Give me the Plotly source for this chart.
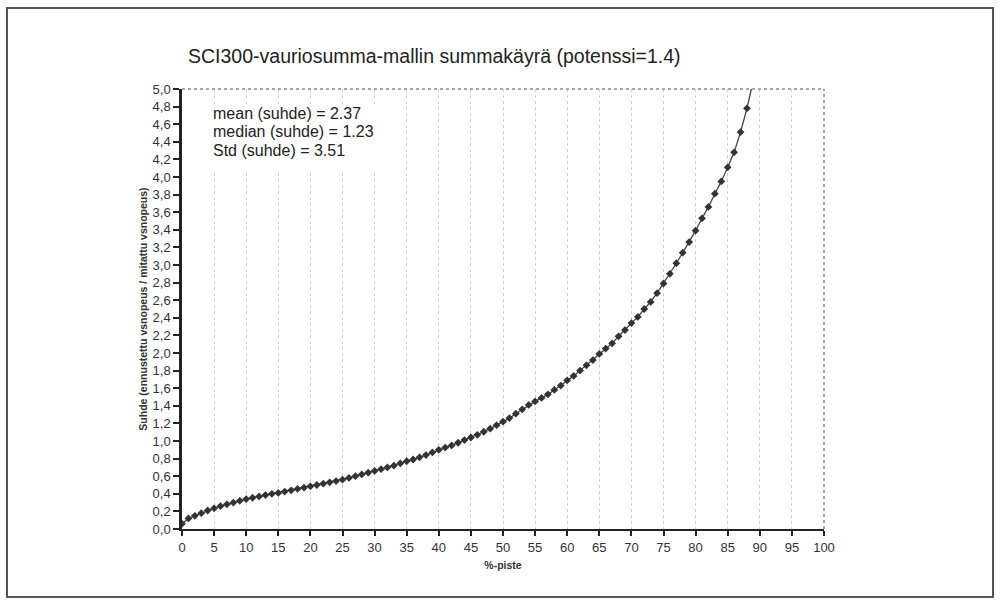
import plotly.graph_objects as go

# Data
percent_points = list(range(0, 90))
ratio_values = [
    0.06, 0.12, 0.15, 0.18, 0.21, 0.235, 0.26, 0.28, 0.30, 0.32,
    0.34, 0.355, 0.37, 0.385, 0.40, 0.41, 0.425, 0.44, 0.455, 0.47,
    0.485, 0.50, 0.515, 0.53, 0.545, 0.56, 0.58, 0.60, 0.62, 0.64,
    0.66, 0.68, 0.70, 0.72, 0.745, 0.77, 0.79, 0.815, 0.84, 0.87,
    0.90, 0.925, 0.95, 0.98, 1.01, 1.04, 1.07, 1.105, 1.14, 1.18,
    1.22, 1.26, 1.31, 1.36, 1.41, 1.45, 1.49, 1.53, 1.58, 1.63,
    1.69, 1.74, 1.80, 1.86, 1.92, 1.99, 2.05, 2.11, 2.19, 2.26,
    2.34, 2.41, 2.50, 2.58, 2.68, 2.79, 2.90, 3.02, 3.14, 3.26,
    3.39, 3.53, 3.66, 3.81, 3.95, 4.11, 4.28, 4.51, 4.78, 5.10,
]
x_ticks = list(range(0, 101, 5))
y_ticks = [round(i * 0.2, 1) for i in range(0, 26)]
stats_lines = ["mean (suhde) = 2.37", "median (suhde) = 1.23", "Std (suhde) = 3.51"]
title_text = "SCI300-vauriosumma-mallin summakäyrä (potenssi=1.4)"

W, H = 1001, 601
L, R, T, B = 182, 177, 89, 72
pw, ph = W - L - R, H - T - B

def px(x):
    return (x - L) / pw

def py(y):
    return (H - B - y) / ph

fig = go.Figure()
fig.add_trace(go.Scatter(
    x=percent_points, y=ratio_values, mode="lines+markers",
    line=dict(color="#444444", width=1.3),
    marker=dict(symbol="diamond", size=6, color="#333333"),
    cliponaxis=True, showlegend=False,
))

font_family = "Liberation Sans, Arial, sans-serif"
fig.update_layout(
    width=W, height=H,
    margin=dict(l=L, r=R, t=T, b=B),
    paper_bgcolor="white", plot_bgcolor="white",
    separators=", ",
    font=dict(family=font_family, color="#2a2a2a"),
    title=dict(text=title_text, xref="container", x=188 / W, xanchor="left",
               yref="container", y=1 - 56 / H, yanchor="middle",
               font=dict(size=19.5, color="#222222", family=font_family)),
    xaxis=dict(
        range=[0, 100], tickvals=x_ticks, ticktext=[str(v) for v in x_ticks],
        showgrid=True, gridcolor="#cfcfcf", griddash="dot", gridwidth=1,
        showline=True, linecolor="#222222", linewidth=2,
        ticks="outside", ticklen=5, tickwidth=1.5, tickcolor="#222222",
        tickfont=dict(size=13, color="#333333"), zeroline=False,
        title=dict(text="<b>%-piste</b>", font=dict(size=10.5, color="#333333"), standoff=8),
    ),
    yaxis=dict(
        range=[0, 5], tickvals=y_ticks, tickformat=".1f",
        showgrid=False, showline=True, linecolor="#222222", linewidth=2.5,
        ticks="outside", ticklen=6, tickwidth=2, tickcolor="#222222",
        tickfont=dict(size=13, color="#333333"), zeroline=False,
        title=dict(text="<b>Suhde (ennustettu vsnopeus / mitattu vsnopeus)</b>",
                   font=dict(size=10.5, color="#333333"), standoff=3),
    ),
)

# white text box behind the statistics (hides gridlines)
fig.add_shape(type="rect", xref="paper", yref="paper",
              x0=px(200), x1=px(390), y0=py(172), y1=py(104),
              line=dict(width=0), fillcolor="white", layer="above")

# dotted top and right border of plot area
fig.add_shape(type="line", xref="paper", yref="paper", x0=0, x1=1, y0=1, y1=1,
              line=dict(color="#8a8a8a", width=1.5, dash="dot"))
fig.add_shape(type="line", xref="paper", yref="paper", x0=1, x1=1, y0=0, y1=1,
              line=dict(color="#8a8a8a", width=1.5, dash="dot"))

# outer frame
fig.add_shape(type="rect", xref="paper", yref="paper",
              x0=px(7), x1=px(993), y0=py(597), y1=py(8),
              line=dict(color="#555555", width=2), layer="below")

# statistics text
for i, s in enumerate(stats_lines):
    fig.add_annotation(text=s, xref="paper", yref="paper", x=px(211), y=py(113 + 18.5 * i),
                       xanchor="left", yanchor="middle", showarrow=False,
                       font=dict(size=16, color="#222222", family=font_family))

fig.write_html("out.html")
